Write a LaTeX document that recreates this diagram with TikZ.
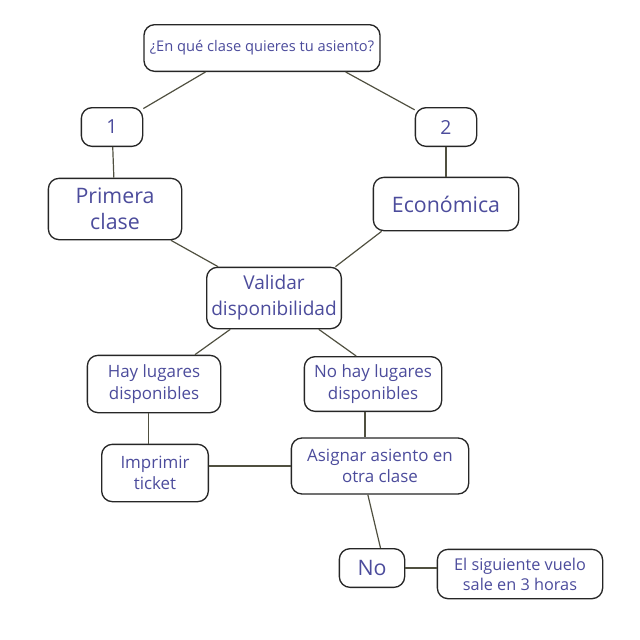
\documentclass[tikz,border=0pt]{standalone}
\usepackage{fontspec}
\setmainfont{Open Sans}
\usepackage{xcolor}
\usetikzlibrary{positioning}
\definecolor{textblue}{RGB}{76,76,156}
\definecolor{linkgray}{RGB}{80,80,64}
\tikzset{
box/.style={
    rectangle,
    draw=black!85,
    line width=1pt,
    rounded corners=8pt,
    fill=white,
    text=textblue,
    align=center,
    inner sep=0pt
},
link/.style={draw=linkgray, line width=0.9pt}
}

\begin{document}
\begin{tikzpicture}[x=0.75pt, y=-0.75pt]

    \useasboundingbox (0,0) rectangle (640,640);

    % node placement
    \node[box, minimum width=177pt, minimum height=35pt, font=\fontsize{11}{13}\selectfont] (pregunta) at (262,48) {¿En qué clase quieres tu asiento?};

    \node[box, minimum width=46pt, minimum height=29pt, font=\fontsize{14.5}{17}\selectfont] (uno) at (112,127) {1};
    \node[box, minimum width=46pt, minimum height=29pt, font=\fontsize{14.5}{17}\selectfont] (dos) at (446,127) {2};

    \node[box, minimum width=100pt, minimum height=46pt, font=\fontsize{16}{19.5}\selectfont] (primera) at (115,209) {Primera\\clase};
    \node[box, minimum width=109pt, minimum height=40pt, font=\fontsize{16}{19.5}\selectfont] (economica) at (446,204) {Económica};

    \node[box, minimum width=101pt, minimum height=46pt, font=\fontsize{14.3}{19.5}\selectfont] (validar) at (274,298) {Validar\\disponibilidad};

    \node[box, minimum width=100pt, minimum height=43pt, font=\fontsize{12.7}{16}\selectfont] (hay) at (154,384) {Hay lugares\\disponibles};
    \node[box, minimum width=103pt, minimum height=41pt, font=\fontsize{12.7}{16}\selectfont] (nohay) at (373,384) {No hay lugares\\disponibles};

    \node[box, minimum width=80pt, minimum height=43pt, font=\fontsize{12.7}{16}\selectfont] (imprimir) at (155,473) {Imprimir\\ticket};
    \node[box, minimum width=133pt, minimum height=42pt, font=\fontsize{12.7}{16}\selectfont] (asignar) at (380,466) {Asignar asiento en\\otra clase};

    \node[box, minimum width=49pt, minimum height=29pt, font=\fontsize{16}{19}\selectfont] (no) at (372,568) {No};
    \node[box, minimum width=124pt, minimum height=37pt, font=\fontsize{12.2}{15}\selectfont] (siguiente) at (520,574) {El siguiente vuelo\\sale en 3 horas};

    % edges
    \draw[link] (pregunta.203) -- (uno);
    \draw[link] (pregunta.-16) -- (dos);
    \draw[link] (uno) -- (primera);
    \draw[link] (dos) -- (economica);
    \draw[link] (primera) -- (validar);
    \draw[link] (economica.203) -- (validar.27);
    \draw[link] (validar) -- (hay);
    \draw[link] (validar.-35) -- (nohay.121);
    \draw[link] ([xshift=-4pt]hay.south) -- ([xshift=-4pt]hay.south |- imprimir.north);
    \draw[link] ([xshift=-6pt]nohay.south) -- ([xshift=-6pt]nohay.south |- asignar.north);
    \draw[link] (asignar) -- (asignar -| imprimir.east);
    \draw[link] (asignar.247) -- (no.67);
    \draw[link] (no) -- (no -| siguiente.west);

\end{tikzpicture}
\end{document}
